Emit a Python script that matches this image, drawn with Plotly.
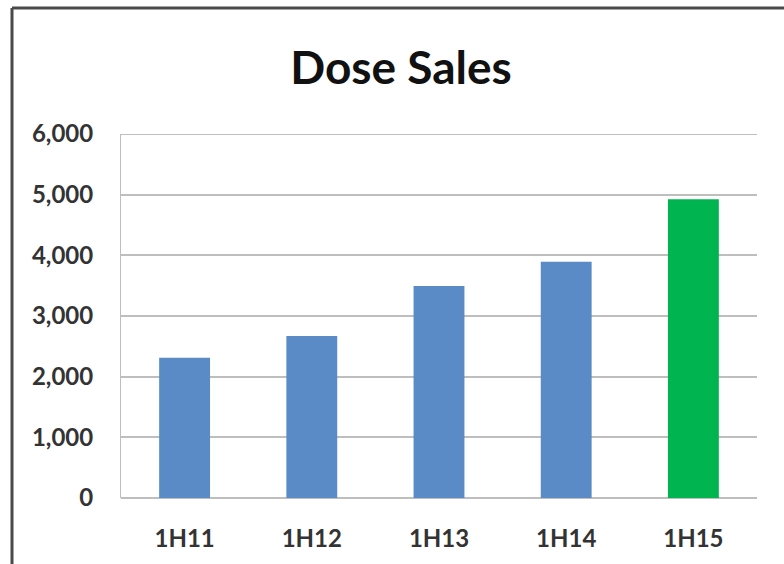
import plotly.graph_objects as go

categories = ["1H11", "1H12", "1H13", "1H14", "1H15"]
sales = [2310, 2670, 3495, 3895, 4925]
bar_colors = ["#5B8BC7", "#5B8BC7", "#5B8BC7", "#5B8BC7", "#00B550"]
y_ticks = [0, 1000, 2000, 3000, 4000, 5000, 6000]
y_tick_labels = ["0", "1,000", "2,000", "3,000", "4,000", "5,000", "6,000"]

W, H = 784, 564
L, R, T, B = 121, 27, 134, 66
pw, ph = W - L - R, H - T - B

fig = go.Figure(go.Bar(
    x=categories, y=sales, marker=dict(color=bar_colors, line=dict(width=0)),
    width=0.4,
))

font = "Lato, 'Open Sans', sans-serif"
grid = "#BEBEBE"
label_color = "#333333"
fig.update_layout(
    width=W, height=H,
    margin=dict(l=L, r=R, t=T, b=B, autoexpand=False),
    paper_bgcolor="white", plot_bgcolor="white",
    showlegend=False,
    font=dict(family=font, color=label_color, size=24),
    title=dict(text="<b>Dose Sales</b>", x=401 / W, xref="container", xanchor="center",
               y=1 - 68 / H, yref="container", yanchor="middle",
               font=dict(size=46, family=font, color="#111")),
    xaxis=dict(showgrid=False, showline=False, ticks="outside", ticklen=19,
               tickcolor="rgba(0,0,0,0)",
               tickfont=dict(size=24, color=label_color, weight="bold")),
    yaxis=dict(range=[0, 6000], tickvals=y_ticks, ticktext=y_tick_labels,
               showgrid=True, gridcolor=grid, gridwidth=2,
               zeroline=True, zerolinecolor=grid, zerolinewidth=2,
               showline=True, linecolor=grid, linewidth=1,
               ticks="outside", ticklen=22, tickcolor="rgba(0,0,0,0)",
               tickfont=dict(size=24, color=label_color, weight="bold")),
    shapes=[
        dict(type="line", xref="paper", yref="y", x0=0, x1=1,
             y0=y_ticks[-1], y1=y_ticks[-1], line=dict(color=grid, width=2), layer="below"),
        dict(type="line", xref="paper", yref="paper",
             x0=(12 - L) / pw, x1=(12 - L) / pw, y0=(H - B - 8) / ph, y1=-0.3,
             line=dict(color="#4a4a4a", width=3)),
        dict(type="line", xref="paper", yref="paper",
             x0=(12 - L) / pw, x1=1.2, y0=(H - B - 8) / ph, y1=(H - B - 8) / ph,
             line=dict(color="#4a4a4a", width=3)),
    ],
)

fig.write_html("out.html")
